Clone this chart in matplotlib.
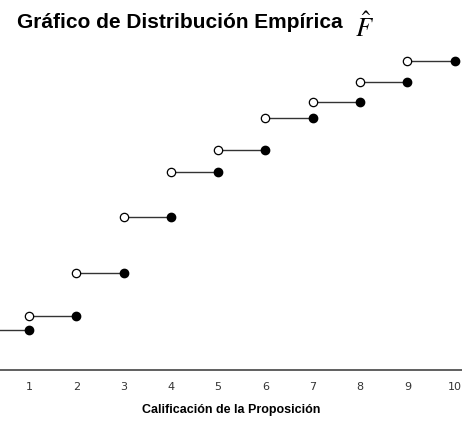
import numpy as np
import matplotlib
matplotlib.use('Agg')
import matplotlib.pyplot as plt

calificacion = np.array([1, 2, 3, 4, 5, 6, 7, 8, 9, 10])
f_empirica = np.array([0.13, 0.175, 0.315, 0.495, 0.64, 0.712, 0.815, 0.867, 0.932, 1.0])
tick_labels = [str(v) for v in calificacion]

plt.rcParams['mathtext.fontset'] = 'stix'

fig = plt.figure(figsize=(4.62, 4.21), dpi=100)
ax = fig.add_axes([0.0, 1 - 370 / 421, 1.0, 330 / 421])

# Each step: horizontal segment, open circle at the left end, filled at the right.
for x_right, level in zip(calificacion, f_empirica):
    x_left = x_right - 1
    ax.plot([x_left, x_right], [level, level], color='#333333', lw=1.0, zorder=1)
    ax.plot(x_left, level, 'o', ms=6, mfc='white', mec='black', mew=0.9, zorder=2)
    ax.plot(x_right, level, 'o', ms=6, mfc='black', mec='black', zorder=2)

ax.set_xlim(0.387, 10.155)
ax.set_ylim(0, 1.068)

for side in ['left', 'right', 'top']:
    ax.spines[side].set_visible(False)
ax.spines['bottom'].set_color('#444444')
ax.spines['bottom'].set_linewidth(1.2)

ax.set_yticks([])
ax.set_xticks(calificacion)
ax.set_xticklabels(tick_labels, fontsize=8, color='#333333')
ax.tick_params(axis='x', length=0, pad=9)
ax.set_xlabel('Calificación de la Proposición', fontsize=9, fontweight='bold',
              family='Liberation Sans', labelpad=8)

fig.text(17 / 462, 1 - 23 / 421, 'Gráfico de Distribución Empírica', fontsize=15,
         fontweight='bold', family='Liberation Sans', va='center', ha='left')
fig.text(355 / 462, 1 - 28 / 421, r'$\hat{F}$', fontsize=19, va='center', ha='left')

fig.savefig('out.png', dpi=100)
